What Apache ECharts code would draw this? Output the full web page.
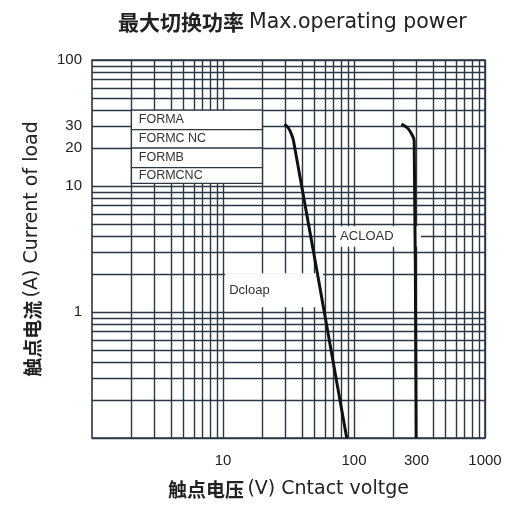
<!DOCTYPE html>
<html><head><meta charset="utf-8">
<script src="https://cdn.jsdelivr.net/npm/echarts@6/dist/echarts.min.js"></script>
<style>html,body{margin:0;padding:0;background:#fff}#c{width:507px;height:505px}</style>
</head><body><div id="c"></div>
<script>
// ---- data ----
const xGridValues = [2,3,4,5,6,7,8,9,10,20,30,40,50,60,70,80,90,100,200,300,400,500,600,700,800,900,1000];
const yGridValues = [0.1,0.2,0.3,0.4,0.5,0.6,0.7,0.8,0.9,1,2,3,4,5,6,7,8,9,10,20,30,40,50,60,70,80,90,100];
const xTickLabels = [10,100,300,1000];
const yTickLabels = [1,10,20,30,100];
const dcLoad = [[29.5,31],[31.5,29],[33.2,26],[34.5,23],[88,0.1]];
const acLoad = [[230,31],[255,29],[275,26],[288,23],[298,0.1]];
const formLabels = ['FORMA','FORMC NC','FORMB','FORMCNC'];
const formRowBounds = [40,28,20,14,10.5];
const formXRange = [2,20];
const acLabel = {text:'ACLOAD', x:[73,324], y:[3.3,4.8]};
const dcLabel = {text:'Dcloap', x:[10.4,58], y:[1.09,2.03]};

// ---- chart ----
const gridColor = '#2a3846';
const cjk = 'Noto Sans CJK SC';
const lat = 'DejaVu Sans';
const nameRich = {
  a:{fontFamily:cjk, fontWeight:'bold', fontSize:19, color:'#222'},
  b:{fontFamily:lat, fontWeight:'normal', fontSize:19, color:'#222'}
};
const boxLabelStyle = {fontFamily:'Liberation Sans', fontSize:12.5, color:'#333'};

const formAreas = formLabels.map((t,i)=>[
  {name:t, coord:[formXRange[0], formRowBounds[i]],
   itemStyle:{color:'#fff', opacity:1, borderColor:gridColor, borderWidth:1.3},
   label:Object.assign({show:true, position:'insideLeft', distance:8}, boxLabelStyle)},
  {coord:[formXRange[1], formRowBounds[i+1]]}
]);
const plainArea = (o)=>[
  {name:o.text, coord:[o.x[0], o.y[1]], itemStyle:{color:'#fff', opacity:1, borderWidth:0},
   label:Object.assign({show:true, position:'insideLeft', distance:4}, boxLabelStyle, {fontSize:13})},
  {coord:[o.x[1], o.y[0]]}
];

const chart = echarts.init(document.getElementById('c'));
chart.setOption({
  backgroundColor:'#fff',
  animation:false,
  title:{
    text:'{a|最大切换功率} {b|Max.operating power}',
    left:113, top:7,
    textStyle:{fontWeight:'normal', rich:{
      a:{fontFamily:cjk, fontWeight:'bold', fontSize:21, color:'#222'},
      b:{fontFamily:lat, fontWeight:'normal', fontSize:20.5, color:'#222'}
    }}
  },
  grid:{left:92, right:22, top:60, bottom:67, show:true, borderColor:gridColor, borderWidth:1.6},
  xAxis:{
    type:'log', logBase:10, min:1, max:1000,
    name:'{a|触点电压} {b|(V) Cntact voltge}',
    nameLocation:'middle', nameGap:42,
    nameTextStyle:{fontWeight:'normal', rich:nameRich},
    axisLine:{show:false},
    axisTick:{show:false, customValues:xGridValues},
    splitLine:{show:true, lineStyle:{color:gridColor, width:1.4}},
    axisLabel:{customValues:xTickLabels, margin:15, fontFamily:'Liberation Sans', fontSize:15, color:'#222',
      formatter:v=>String(v)}
  },
  yAxis:{
    type:'log', logBase:10, min:0.1, max:100,
    name:'{a|触点电流} {b|(A) Current of load}',
    nameLocation:'middle', nameGap:50,
    nameTextStyle:{fontWeight:'normal', rich:nameRich},
    axisLine:{show:false},
    axisTick:{show:false, customValues:yGridValues},
    splitLine:{show:true, lineStyle:{color:gridColor, width:1.4}},
    axisLabel:{customValues:yTickLabels, margin:10, fontFamily:'Liberation Sans', fontSize:15, color:'#222',
      formatter:v=>String(v)}
  },
  series:[
    {
      type:'line', data:[], z:1, silent:true,
      markArea:{silent:true, data:formAreas.concat([plainArea(acLabel), plainArea(dcLabel)])}
    },
    {type:'line', name:'DC', data:dcLoad, z:3, symbol:'none', smooth:0.3,
      lineStyle:{color:'#111', width:3}},
    {type:'line', name:'AC', data:acLoad, z:3, symbol:'none', smooth:0.3,
      lineStyle:{color:'#111', width:3}}
  ]
});
</script>
</body></html>
